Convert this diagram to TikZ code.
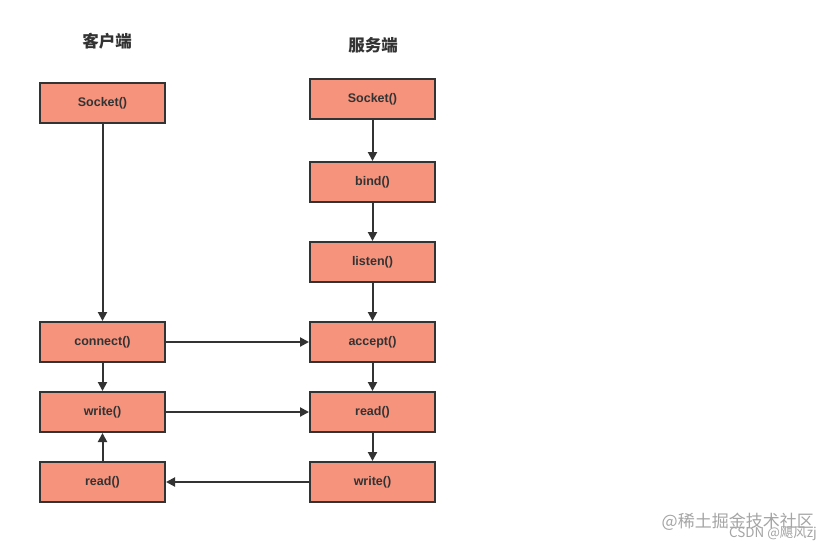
\documentclass[tikz,border=0pt]{standalone}
\usepackage{fontspec}
\setmainfont{Liberation Sans}
\newfontfamily\cjk{Noto Sans CJK SC}
\usetikzlibrary{arrows.meta}
\definecolor{boxfill}{RGB}{245,147,125}
\definecolor{boxline}{RGB}{51,51,51}
\definecolor{wm}{RGB}{165,165,165}
\tikzset{
  fn/.style={draw=boxline, fill=boxfill, line width=2pt, minimum width=125pt, minimum height=40pt, inner sep=0pt, font=\bfseries\fontsize{12.5}{15}\selectfont, text=boxline},
  conn/.style={draw=boxline, line width=2pt, -{Triangle[length=9pt,width=9pt]}},
  ttl/.style={font=\cjk\bfseries\fontsize{16.5}{19}\selectfont, text=boxline},
}
\begin{document}
\begin{tikzpicture}[x=1pt,y=-1pt]
\useasboundingbox[fill=white] (0,0) rectangle (830,550);
\node[ttl] (tc) at (107,41) {客户端};
\node[ttl] (ts) at (373,45) {服务端};
% client
\node[fn] (cs) at (102.5,103) {Socket()};
\node[fn] (cc) at (102.5,342) {connect()};
\node[fn] (cw) at (102.5,412) {write()};
\node[fn] (cr) at (102.5,482) {read()};
% server
\node[fn] (ss) at (372.5,99) {Socket()};
\node[fn] (sb) at (372.5,182) {bind()};
\node[fn] (sl) at (372.5,262) {listen()};
\node[fn] (sa) at (372.5,342) {accept()};
\node[fn] (sr) at (372.5,412) {read()};
\node[fn] (sw) at (372.5,482) {write()};
% arrows
\draw[conn] (cs) -- (cc);
\draw[conn] (cc) -- (cw);
\draw[conn] (cr) -- (cw);
\draw[conn] (ss) -- (sb);
\draw[conn] (sb) -- (sl);
\draw[conn] (sl) -- (sa);
\draw[conn] (sa) -- (sr);
\draw[conn] (sr) -- (sw);
\draw[conn] (cc) -- (sa);
\draw[conn] (cw) -- (sr);
\draw[conn] (sw) -- (cr);
% watermark
\node[font=\cjk\fontsize{17}{19}\selectfont, text=wm, anchor=east, inner sep=0pt] (w1) at (814,522) {@稀土掘金技术社区};
\node[font=\cjk\fontsize{13.4}{15}\selectfont, text=wm, anchor=east, inner sep=0pt] (w2) at (817,534) {CSDN @飓风zj};
\end{tikzpicture}
\end{document}
